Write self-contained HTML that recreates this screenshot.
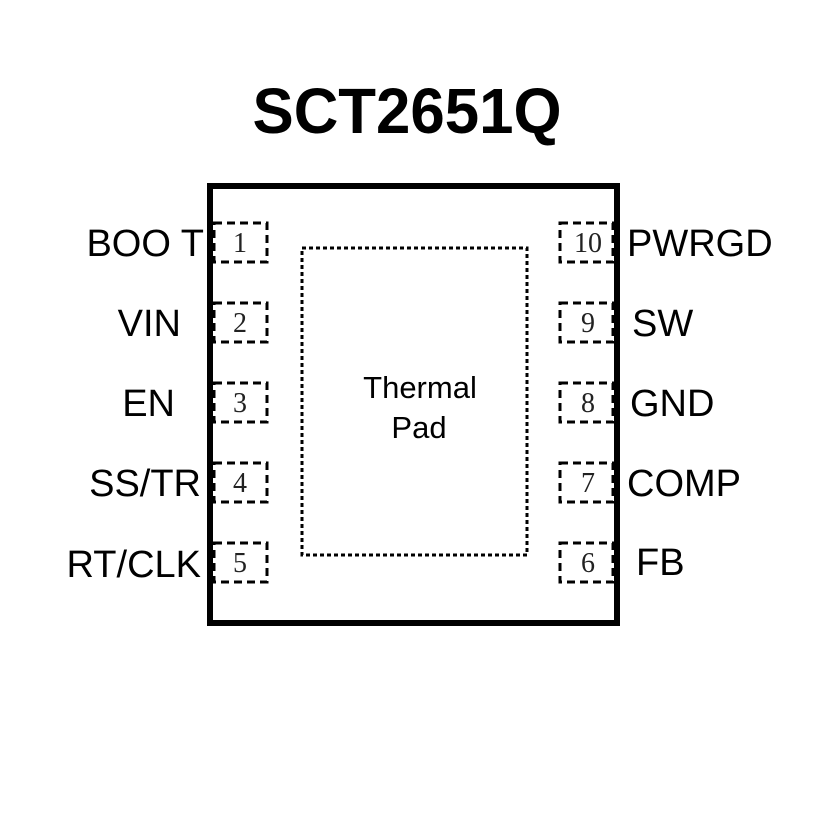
<!DOCTYPE html>
<html><head><style>html,body{margin:0;padding:0;background:#fff}</style></head>
<body>
<svg width="827" height="827" viewBox="0 0 827 827" xmlns="http://www.w3.org/2000/svg">
<rect width="827" height="827" fill="#fff"/>
<text x="407" y="133" text-anchor="middle" font-family="Liberation Sans, sans-serif" font-weight="bold" font-size="64" textLength="309" lengthAdjust="spacingAndGlyphs">SCT2651Q</text>
<rect x="210" y="186" width="407" height="437" fill="none" stroke="#000" stroke-width="6"/>
<rect x="302" y="248" width="225" height="307" fill="none" stroke="#000" stroke-width="3" stroke-dasharray="4,3"/>
<g fill="none" stroke="#000" stroke-width="3" stroke-dasharray="8,5">
<rect x="214" y="223" width="53" height="39"/>
<rect x="214" y="303" width="53" height="39"/>
<rect x="214" y="383" width="53" height="39"/>
<rect x="214" y="463" width="53" height="39"/>
<rect x="214" y="543" width="53" height="39"/>
<rect x="560" y="223" width="53" height="39"/>
<rect x="560" y="303" width="53" height="39"/>
<rect x="560" y="383" width="53" height="39"/>
<rect x="560" y="463" width="53" height="39"/>
<rect x="560" y="543" width="53" height="39"/>
</g>
<g font-family="Liberation Serif, serif" font-size="28" text-anchor="middle" fill="#222">
<text x="240" y="252">1</text><text x="240" y="332">2</text><text x="240" y="412">3</text><text x="240" y="492">4</text><text x="240" y="572">5</text>
<text x="588" y="252">10</text><text x="588" y="332">9</text><text x="588" y="412">8</text><text x="588" y="492">7</text><text x="588" y="572">6</text>
</g>
<g font-family="Liberation Sans, sans-serif" font-size="38" fill="#000">
<g text-anchor="end">
<text x="204" y="256">BOO T</text>
<text x="181" y="336">VIN</text>
<text x="175" y="416">EN</text>
<text x="201" y="496">SS/TR</text>
<text x="201" y="577">RT/CLK</text>
</g>
<text x="627" y="256">PWRGD</text>
<text x="632" y="336">SW</text>
<text x="630" y="416">GND</text>
<text x="627" y="496">COMP</text>
<text x="636" y="575">FB</text>
</g>
<g font-family="Liberation Sans, sans-serif" font-size="31" text-anchor="middle">
<text x="420" y="398">Thermal</text>
<text x="419" y="438">Pad</text>
</g>
</svg>
</body></html>
